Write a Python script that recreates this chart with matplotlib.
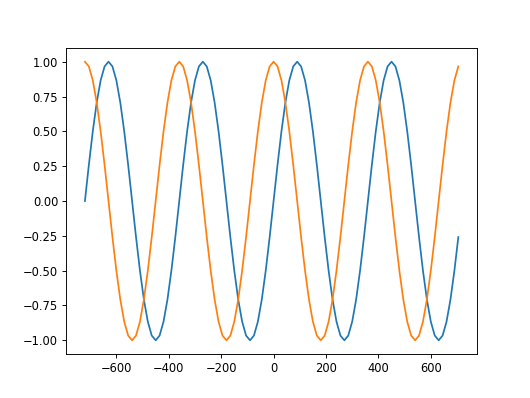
import matplotlib
matplotlib.use("Agg")
import matplotlib.pyplot as plt

# angle in degrees, sampled every 15 degrees
angles = list(range(-720, 720, 15))

sin_values = [
    0.0, 0.259, 0.5, 0.707, 0.866, 0.966, 1.0, 0.966, 0.866, 0.707, 0.5, 0.259,
    0.0, -0.259, -0.5, -0.707, -0.866, -0.966, -1.0, -0.966, -0.866, -0.707, -0.5, -0.259,
    0.0, 0.259, 0.5, 0.707, 0.866, 0.966, 1.0, 0.966, 0.866, 0.707, 0.5, 0.259,
    0.0, -0.259, -0.5, -0.707, -0.866, -0.966, -1.0, -0.966, -0.866, -0.707, -0.5, -0.259,
    0.0, 0.259, 0.5, 0.707, 0.866, 0.966, 1.0, 0.966, 0.866, 0.707, 0.5, 0.259,
    0.0, -0.259, -0.5, -0.707, -0.866, -0.966, -1.0, -0.966, -0.866, -0.707, -0.5, -0.259,
    0.0, 0.259, 0.5, 0.707, 0.866, 0.966, 1.0, 0.966, 0.866, 0.707, 0.5, 0.259,
    0.0, -0.259, -0.5, -0.707, -0.866, -0.966, -1.0, -0.966, -0.866, -0.707, -0.5, -0.259,
]

cos_values = [
    1.0, 0.966, 0.866, 0.707, 0.5, 0.259, 0.0, -0.259, -0.5, -0.707, -0.866, -0.966,
    -1.0, -0.966, -0.866, -0.707, -0.5, -0.259, 0.0, 0.259, 0.5, 0.707, 0.866, 0.966,
    1.0, 0.966, 0.866, 0.707, 0.5, 0.259, 0.0, -0.259, -0.5, -0.707, -0.866, -0.966,
    -1.0, -0.966, -0.866, -0.707, -0.5, -0.259, 0.0, 0.259, 0.5, 0.707, 0.866, 0.966,
    1.0, 0.966, 0.866, 0.707, 0.5, 0.259, 0.0, -0.259, -0.5, -0.707, -0.866, -0.966,
    -1.0, -0.966, -0.866, -0.707, -0.5, -0.259, 0.0, 0.259, 0.5, 0.707, 0.866, 0.966,
    1.0, 0.966, 0.866, 0.707, 0.5, 0.259, 0.0, -0.259, -0.5, -0.707, -0.866, -0.966,
    -1.0, -0.966, -0.866, -0.707, -0.5, -0.259, 0.0, 0.259, 0.5, 0.707, 0.866, 0.966,
]

dpi = 83
fig, ax = plt.subplots(figsize=(530 / dpi, 398 / dpi), dpi=dpi)
ax.plot(angles, sin_values)
ax.plot(angles, cos_values)
fig.savefig("out.png", dpi=dpi)
